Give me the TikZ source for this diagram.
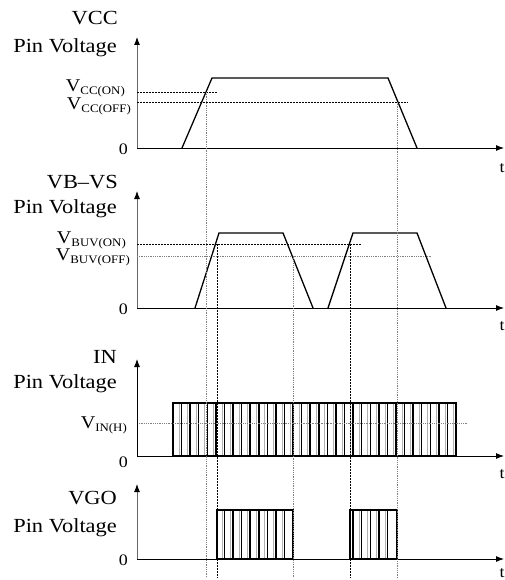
\documentclass[tikz,border=0pt]{standalone}
\usepackage{fontspec}
\setmainfont[FakeStretch=1.12]{Liberation Serif}
\usetikzlibrary{arrows.meta}
\newcommand{\subl}[1]{\raisebox{-3pt}{\fontsize{11.5}{11.5}\selectfont #1}}
\begin{document}
\begin{tikzpicture}[x=1pt,y=-1pt,
 sig/.style={line width=1.3pt, line join=miter},
 yaxis/.style={line width=0.9pt, gray!80!black, -{Latex[length=8pt,width=6pt,black]}},
 xaxis/.style={line width=0.9pt, -{Latex[length=8pt,width=6pt]}},
 refb/.style={dash pattern=on 2pt off 1pt, line width=0.7pt},
 refg/.style={gray, dash pattern=on 1pt off 0.8pt, line width=0.9pt},
 pulse/.style={line width=1.5pt},
 pulseg/.style={line width=1pt, gray!60},
 lab/.style={inner sep=0pt, anchor=base east, font=\fontsize{20}{20}\selectfont},
 vlab/.style={inner sep=0pt, anchor=base east, font=\fontsize{18}{18}\selectfont},
 zlab/.style={inner sep=0pt, anchor=base east, font=\fontsize{16}{16}\selectfont},
 tlab/.style={inner sep=0pt, anchor=base, font=\fontsize{16}{16}\selectfont},
]
\useasboundingbox (0,0) rectangle (505,580);
\pgfmathsetmacro{\per}{8.576}
% ---------- panel 1: VCC
\coordinate (o1) at (137,148);
\coordinate (y1) at (137,37);
\coordinate (x1) at (504,148);
\draw[yaxis] (o1) -- (y1);
\draw[xaxis] (o1) -- (x1);
\node[lab] (h1) at (118,25) {VCC};
\node[lab] (p1) at (117,53) {Pin Voltage};
\node[vlab] (von1) at (125,92) {V\subl{CC(ON)}};
\node[vlab] (voff1) at (131,110) {V\subl{CC(OFF)}};
\node[zlab] (z1) at (128,154) {0};
\node[tlab] (t1) at (502,172) {t};
\draw[refb] (137,92) -- (217,92);
\draw[refb] (137,102) -- (408,102);
\draw[sig] (182,148) -- (212,78) -- (388,78) -- (417,148);
% ---------- panel 2: VB-VS
\coordinate (o2) at (137,308);
\coordinate (y2) at (137,191);
\coordinate (x2) at (504,308);
\draw[yaxis] (o2) -- (y2);
\draw[xaxis] (o2) -- (x2);
\node[lab] (h2) at (118,188) {VB–VS};
\node[lab] (p2) at (117,213) {Pin Voltage};
\node[vlab] (von2) at (126,243) {V\subl{BUV(ON)}};
\node[vlab] (voff2) at (130,260) {V\subl{BUV(OFF)}};
\node[zlab] (z2) at (128,314) {0};
\node[tlab] (t2) at (502,330) {t};
\draw[refb] (137,244) -- (361,244);
\draw[refg] (137,256) -- (432,256);
\draw[sig] (195,308) -- (219,233) -- (283,233) -- (313,308);
\draw[sig] (328,308) -- (353,233) -- (417,233) -- (446,308);
% ---------- panel 3: IN
\coordinate (o3) at (137,456);
\coordinate (y3) at (137,359);
\coordinate (x3) at (504,456);
\draw[xaxis] (o3) -- (x3);
\node[lab] (h3) at (117,363) {IN};
\node[lab] (p3) at (117,388) {Pin Voltage};
\node[vlab] (vin) at (127,428) {V\subl{IN(H)}};
\node[zlab] (z3) at (128,467) {0};
\node[tlab] (t3) at (502,478) {t};
\foreach \k in {1,...,33} {
  \draw[pulseg] ({173+\k*\per-2.4},403) -- ++(0,53);
  \draw[pulse] ({173+\k*\per},403) -- ++(0,53);
}
\draw[pulse] (173,456) rectangle (456,403);
\draw[refg] (137,423) -- (468,423);
\draw[line width=0.9pt, -{Latex[length=8pt,width=6pt]}] (o3) -- (y3);
% ---------- panel 4: VGO
\coordinate (o4) at (137,559);
\coordinate (y4) at (137,484);
\coordinate (x4) at (504,559);
\draw[yaxis] (o4) -- (y4);
\draw[xaxis] (o4) -- (x4);
\node[lab] (h4) at (117,504) {VGO};
\node[lab] (p4) at (117,532) {Pin Voltage};
\node[zlab] (z4) at (128,565) {0};
\node[tlab] (t4) at (502,577) {t};
\foreach \k in {6,...,13} {
  \draw[pulseg] ({173+\k*\per-2.4},510) -- ++(0,49);
  \draw[pulse] ({173+\k*\per},510) -- ++(0,49);
}
\foreach \k in {21,...,25} {
  \draw[pulseg] ({173+\k*\per-2.4},510) -- ++(0,49);
  \draw[pulse] ({173+\k*\per},510) -- ++(0,49);
}
\draw[pulse] (217,559) rectangle (293,510);
\draw[pulse] (350,559) rectangle (397,510);
% ---------- vertical timing references
\draw[refg] (206,92) -- (206,578);
\draw[refb] (217,244) -- (217,578);
\draw[refg] (293,256) -- (293,578);
\draw[refb] (350,244) -- (350,578);
\draw[refg] (397,102) -- (397,578);
\end{tikzpicture}
\end{document}
